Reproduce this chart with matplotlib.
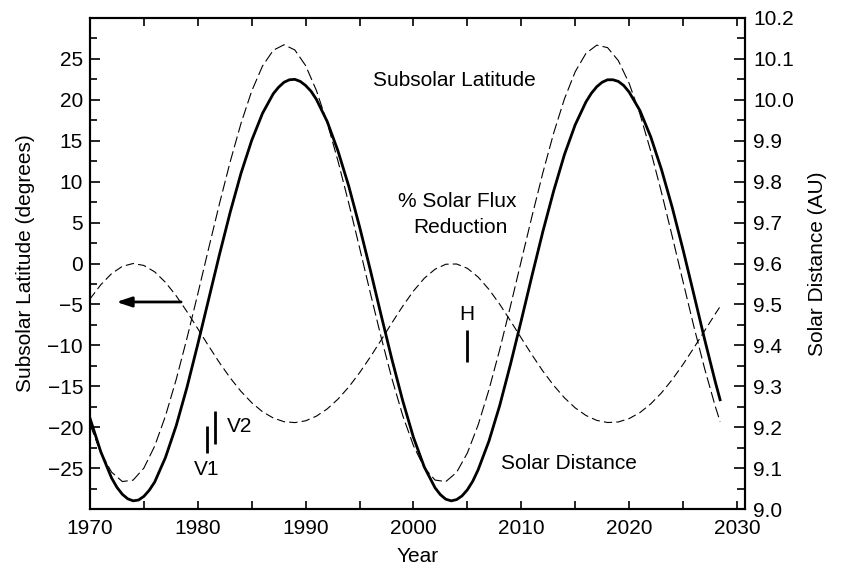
import numpy as np
import matplotlib.pyplot as plt
from matplotlib.ticker import MultipleLocator, FormatStrFormatter

plt.rcParams['font.family'] = ['Liberation Sans', 'DejaVu Sans']
plt.rcParams['lines.scale_dashes'] = False

# yearly samples (last point is where the curves stop)
years = [1970, 1971, 1972, 1973, 1974, 1975, 1976, 1977, 1978, 1979,
         1980, 1981, 1982, 1983, 1984, 1985, 1986, 1987, 1988, 1989,
         1990, 1991, 1992, 1993, 1994, 1995, 1996, 1997, 1998, 1999,
         2000, 2001, 2002, 2003, 2004, 2005, 2006, 2007, 2008, 2009,
         2010, 2011, 2012, 2013, 2014, 2015, 2016, 2017, 2018, 2019,
         2020, 2021, 2022, 2023, 2024, 2025, 2026, 2027, 2028, 2028.44]

# subsolar latitude (degrees), thin long dashes
subsolar_lat = [-19.66, -23.11, -25.49, -26.64, -26.47, -24.99, -22.31, -18.63, -14.15, -9.10,
                -3.71, 1.82, 7.26, 12.42, 17.10, 21.08, 24.13, 26.06, 26.73, 26.09,
                24.18, 21.14, 17.19, 12.52, 7.36, 1.93, -3.60, -9.00, -14.06, -18.56,
                -22.26, -24.95, -26.46, -26.65, -25.52, -23.15, -19.72, -15.43, -10.52, -5.19,
                0.33, 5.81, 11.08, 15.92, 20.11, 23.43, 25.68, 26.68, 26.38, 24.79,
                22.02, 18.28, 13.76, 8.70, 3.31, -2.21, -7.67, -12.83, -17.49, -19.32]

# % solar flux reduction (plotted on the left scale)
flux_reduction = [-4.33, -2.60, -1.24, -0.35, 0.00, -0.24, -1.02, -2.30, -3.96, -5.89,
                  -7.97, -10.07, -12.10, -13.97, -15.62, -17.01, -18.11, -18.88, -19.33, -19.44,
                  -19.22, -18.65, -17.77, -16.57, -15.09, -13.35, -11.42, -9.36, -7.26, -5.22,
                  -3.36, -1.81, -0.70, -0.09, -0.06, -0.59, -1.66, -3.16, -4.98, -7.01,
                  -9.11, -11.18, -13.14, -14.89, -16.41, -17.64, -18.57, -19.17, -19.43, -19.36,
                  -18.95, -18.22, -17.16, -15.81, -14.18, -12.33, -10.32, -8.22, -6.14, -5.26]

# solar distance (AU), right scale, thick solid line (extra half-years near turning points)
dist_years = [1970, 1971, 1972, 1972.5, 1973, 1973.5, 1974, 1974.5, 1975, 1975.5,
              1976, 1977, 1978, 1979, 1980, 1981, 1982, 1983, 1984, 1985,
              1986, 1987, 1987.5, 1988, 1988.5, 1989, 1989.5, 1990, 1990.5, 1991,
              1992, 1993, 1994, 1995, 1996, 1997, 1998, 1999, 2000, 2001,
              2002, 2002.5, 2003, 2003.5, 2004, 2004.5, 2005, 2005.5, 2006, 2007,
              2008, 2009, 2010, 2011, 2012, 2013, 2014, 2015, 2016, 2016.5,
              2017, 2017.5, 2018, 2018.5, 2019, 2019.5, 2020, 2021, 2022, 2023,
              2024, 2025, 2026, 2027, 2028, 2028.44]
solar_distance = [9.222, 9.140, 9.076, 9.053, 9.036, 9.025, 9.020, 9.022, 9.031, 9.046,
                  9.066, 9.126, 9.204, 9.298, 9.403, 9.512, 9.621, 9.725, 9.820, 9.901,
                  9.967, 10.015, 10.031, 10.043, 10.049, 10.050, 10.045, 10.035, 10.021, 10.001,
                  9.947, 9.875, 9.789, 9.690, 9.584, 9.474, 9.366, 9.265, 9.175, 9.103,
                  9.052, 9.035, 9.024, 9.020, 9.023, 9.032, 9.047, 9.068, 9.096, 9.166,
                  9.253, 9.354, 9.461, 9.571, 9.678, 9.777, 9.866, 9.939, 9.995, 10.016,
                  10.032, 10.043, 10.049, 10.049, 10.045, 10.035, 10.019, 9.974, 9.910, 9.830,
                  9.737, 9.634, 9.525, 9.415, 9.310, 9.267]

# spacecraft markers: (year, lat from, lat to)
v1 = (1980.85, -19.9, -23.2)
v2 = (1981.6, -18.0, -22.1)
huygens = (2004.95, -8.1, -12.0)

fig = plt.figure(figsize=(8.41, 5.69), dpi=100)
ax = fig.add_axes([0.107, 0.1054, 0.779, 0.863])
ax2 = ax.twinx()

ax.plot(years, subsolar_lat, color='black', lw=0.8, dashes=(8, 3))
ax.plot(years, flux_reduction, color='black', lw=0.8, dashes=(6, 3))
ax2.plot(dist_years, solar_distance, color='black', lw=2.0, solid_joinstyle='round')

for yr, a, b in (v1, v2, huygens):
    ax.plot([yr, yr], [a, b], color='black', lw=2.0, solid_capstyle='butt')

ax.annotate('', xy=(1972.45, -4.7), xytext=(1978.45, -4.7),
            arrowprops=dict(arrowstyle='-|>,head_length=0.9,head_width=0.3',
                            lw=2.0, color='black', shrinkA=0, shrinkB=0))

fs = 15
ax.text(2003.8, 22.4, 'Subsolar Latitude', ha='center', va='center', fontsize=fs)
ax.text(2004.1, 7.6, '% Solar Flux', ha='center', va='center', fontsize=fs)
ax.text(2004.35, 4.4, 'Reduction', ha='center', va='center', fontsize=fs)
ax.text(2014.4, -24.4, 'Solar Distance', ha='center', va='center', fontsize=fs)
ax.text(2004.95, -6.2, 'H', ha='center', va='center', fontsize=fs)
ax.text(1980.8, -25.2, 'V1', ha='center', va='center', fontsize=fs)
ax.text(1983.9, -19.9, 'V2', ha='center', va='center', fontsize=fs)

ax.set_xlim(1970, 2030.76)
ax.set_ylim(-30, 30)
ax2.set_ylim(9.0, 10.2)

ax.xaxis.set_major_locator(MultipleLocator(10))
ax.xaxis.set_minor_locator(MultipleLocator(5))
ax.yaxis.set_minor_locator(MultipleLocator(2.5))
ax2.yaxis.set_major_locator(MultipleLocator(0.1))
ax2.yaxis.set_minor_locator(MultipleLocator(0.05))
ax2.yaxis.set_major_formatter(FormatStrFormatter('%.1f'))

ax.set_yticks([-25, -20, -15, -10, -5, 0, 5, 10, 15, 20, 25])
ax.set_yticklabels(['\u221225', '\u221220', '\u221215', '\u221210', '\u22125',
                    '0', '5', '10', '15', '20', '25'])

ax.tick_params(axis='x', which='both', direction='in', top=True, length=6, width=1.2,
               labelsize=fs, pad=7)
ax.tick_params(axis='y', which='major', direction='in', right=False, length=7, width=1.2,
               labelsize=fs, pad=5)
ax.tick_params(axis='y', which='minor', direction='in', right=False, length=5, width=1.2)
ax2.tick_params(axis='y', which='major', direction='in', length=8, width=1.2,
                labelsize=fs, pad=6)
ax2.tick_params(axis='y', which='minor', direction='in', length=5.5, width=1.2)

for a in (ax, ax2):
    for s in a.spines.values():
        s.set_linewidth(1.5)

ax.set_xlabel('Year', fontsize=fs, labelpad=7)
ax.set_ylabel('Subsolar Latitude (degrees)', fontsize=fs, labelpad=9)
ax2.set_ylabel('Solar Distance (AU)', fontsize=fs, labelpad=10)

fig.savefig('out.png', dpi=100)
